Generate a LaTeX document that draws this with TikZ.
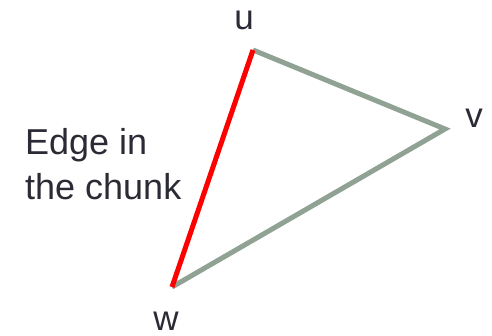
\documentclass[tikz,border=0pt]{standalone}
\usepackage{fontspec}
\setmainfont{Liberation Sans}
\definecolor{EdgeGrey}{HTML}{8FA293}
\definecolor{ChunkRed}{HTML}{FF0000}
\definecolor{LabelText}{HTML}{2B2B35}

\begin{document}
\begin{tikzpicture}[
            x=1pt, y=1pt,
            vlabel/.style = {anchor=base, inner sep=0pt, font=\fontsize{35}{40}\selectfont, text=LabelText},
            note/.style = {anchor=base west, inner sep=0pt, align=left, font=\fontsize{36}{45}\selectfont, text=LabelText},
            edge/.style = {line width=5pt, EdgeGrey},
            chunkedge/.style = {line width=5pt, ChunkRed}
        ]
            \useasboundingbox (0,0) rectangle (492,336);
            \coordinate (u) at (253,286);
            \coordinate (v) at (445,207);
            \coordinate (w) at (172,49);

            \node [vlabel] (ulabel) at (244,306) {u};
            \node [vlabel] (vlabel) at (474,208) {v};
            \node [vlabel] (wlabel) at (166,5) {w};
            \node [note] (chunk) at (25,136) {Edge in\\the chunk};

            \draw [edge] (u) -- (v) -- (w);
            \draw [chunkedge] (w) -- (u);
        \end{tikzpicture}
\end{document}
